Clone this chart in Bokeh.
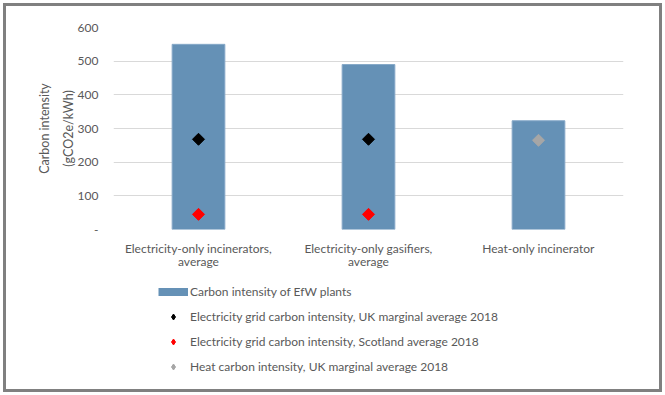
from bokeh.plotting import figure
from bokeh.layouts import column
from bokeh.models import (FactorRange, FixedTicker, Legend, LegendItem, InlineStyleSheet)
from bokeh.embed import file_html
from bokeh.resources import INLINE
import math

categories = ["Electricity-only incinerators,\naverage",
              "Electricity-only gasifiers,\naverage",
              "Heat-only incinerator"]
efw_intensity = [550, 490, 323]
uk_grid_cats = categories[:2]
uk_grid = [268, 268]
scot_grid_cats = categories[:2]
scot_grid = [45, 45]
heat_cats = categories[2:]
heat_uk = [265]
y_ticks = [0, 100, 200, 300, 400, 500, 600]
y_labels = {0: "-"}
legend_labels = ["Carbon intensity of EfW plants",
                 "Electricity grid carbon intensity, UK marginal average 2018",
                 "Electricity grid carbon intensity, Scotland average 2018",
                 "Heat carbon intensity, UK marginal average 2018"]

FONT = "Lato"
TXT = "#595959"
BAR = "#6591b6"
UK = "#000000"
SCOT = "#ff0000"
HEAT = "#a6a6a6"
series = ((uk_grid_cats, uk_grid, UK), (scot_grid_cats, scot_grid, SCOT), (heat_cats, heat_uk, HEAT))

# ---- chart ----
p = figure(width=665, height=275, x_range=FactorRange(factors=categories, range_padding=0),
           y_range=(0, 600), output_backend="svg", toolbar_location=None,
           min_border_left=113, min_border_right=42, min_border_top=27, min_border_bottom=46)
p.outline_line_color = None
p.background_fill_color = "white"
p.border_fill_color = None

p.vbar(x=categories, top=efw_intensity, width=0.31, fill_color=BAR,
       line_color="#86a9c8", line_width=1)
for cats, vals, col in series:
    p.scatter(x=cats, y=vals, marker="square", angle=math.pi / 4, size=8.5,
              fill_color=col, line_color=col)

p.yaxis.ticker = FixedTicker(ticks=y_ticks)
p.yaxis.major_label_overrides = y_labels
p.yaxis.axis_line_color = None
p.yaxis.major_tick_line_color = None
p.yaxis.minor_tick_line_color = None
p.yaxis.major_label_standoff = 9
p.yaxis.major_label_text_font = FONT
p.yaxis.major_label_text_font_size = "12px"
p.yaxis.major_label_text_color = TXT
p.yaxis.axis_label = "Carbon intensity\n(gCO2e/kWh)"
p.yaxis.axis_label_text_font = FONT
p.yaxis.axis_label_text_font_size = "12.5px"
p.yaxis.axis_label_text_font_style = "normal"
p.yaxis.axis_label_text_color = TXT
p.yaxis.axis_label_text_line_height = 1.55
p.yaxis.axis_label_standoff = -1

p.xaxis.axis_line_color = None
p.xaxis.major_tick_line_color = None
p.xaxis.minor_tick_line_color = None
p.xaxis.major_label_standoff = 5
p.xaxis.major_label_text_font = FONT
p.xaxis.major_label_text_font_size = "12px"
p.xaxis.major_label_text_color = TXT
p.xaxis.major_label_text_line_height = 0.9

p.xgrid.grid_line_color = None
p.ygrid.grid_line_color = "#d9d9d9"
p.ygrid.grid_line_width = 1

# ---- legend panel (keys are hidden copies of the chart's series) ----
q = figure(width=665, height=120, x_range=FactorRange(factors=categories, range_padding=0),
           y_range=(0, 600), output_backend="svg",
           toolbar_location=None, x_axis_location=None, y_axis_location=None,
           min_border=0)
q.grid.visible = False
q.outline_line_color = None
q.background_fill_color = None
q.border_fill_color = None
k_bar = q.line(x=categories, y=efw_intensity, line_color=BAR, line_width=8, visible=False)
keys = [k_bar]
for cats, vals, col in series:
    keys.append(q.scatter(x=cats, y=vals, marker="diamond", size=8.5,
                          fill_color=col, line_color=col, visible=False))
leg = Legend(items=[LegendItem(label=l, renderers=[r]) for l, r in zip(legend_labels, keys)],
             location=(45, 21.5), glyph_width=30, glyph_height=15, label_height=15,
             label_standoff=2, padding=0, margin=0, spacing=10,
             border_line_color=None, background_fill_alpha=0, inactive_fill_alpha=0,
             label_text_font=FONT, label_text_font_size="12px", label_text_color=TXT)
q.add_layout(leg, "center")

page = column(p, q, spacing=0,
              stylesheets=[InlineStyleSheet(css=":host { box-shadow: inset 0 0 0 3px #ffffff, inset 0 0 0 6px #808080; }")])

open("out.html", "w").write(file_html(page, INLINE))
